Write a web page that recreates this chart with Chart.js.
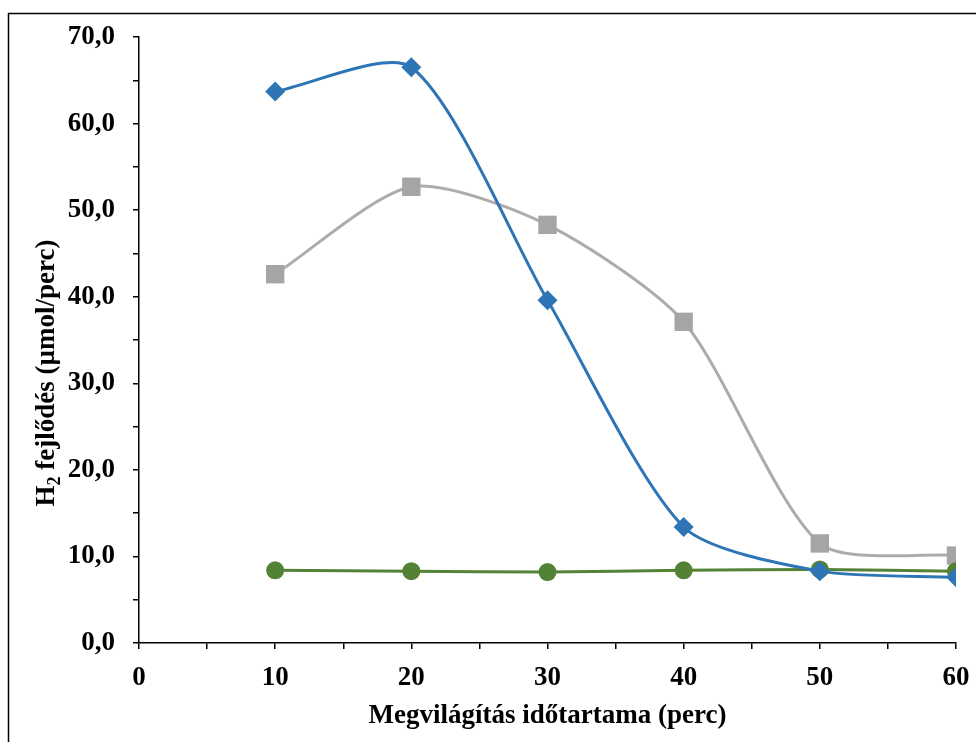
<!DOCTYPE html>
<html>
<head>
<meta charset="utf-8">
<script src="https://cdn.jsdelivr.net/npm/chart.js@4.4.1/dist/chart.umd.min.js"></script>
<style>
  html, body { margin: 0; padding: 0; background: #fff; }
  #wrap { width: 976px; height: 742px; }
</style>
</head>
<body>
<div id="wrap"><canvas id="h2-chart" width="976" height="742"></canvas></div>
<script>
// Megvilágítási idő (perc)
const minutes = [10, 20, 30, 40, 50, 60];

// H2 fejlődés, µmol/perc
const seriesBlue = [63.7, 66.5, 39.6, 13.4, 8.3, 7.6];
const seriesGray = [42.6, 52.7, 48.3, 37.1, 11.5, 10.1];
const seriesGreen = [8.4, 8.3, 8.2, 8.4, 8.5, 8.3];

const yTicks = [0, 10, 20, 30, 40, 50, 60, 70];
const xTicks = [0, 10, 20, 30, 40, 50, 60];

const xTitle = 'Megvilágítás időtartama (perc)';
const yTitleParts = ['H', '2', ' fejlődés (µmol/perc)'];

const FONT = '"Liberation Serif", "Times New Roman", serif';

const toPoints = (vals) => vals.map((v, i) => ({ x: minutes[i], y: v }));

// frame + axis titles (the y title needs a subscript)
const decorations = {
    id: 'decorations',
    afterDraw(chart) {
        const ctx = chart.ctx;
        const area = chart.chartArea;
        ctx.save();

        ctx.strokeStyle = '#000';
        ctx.lineWidth = 1.5;
        ctx.strokeRect(8.5, 13.5, 1000, 1000);

        ctx.fillStyle = '#000';
        ctx.font = 'bold 27px ' + FONT;
        ctx.textAlign = 'center';
        ctx.textBaseline = 'alphabetic';
        ctx.fillText(xTitle, (area.left + area.right) / 2, 723);

        // vertical title
        ctx.translate(54, 373);
        ctx.rotate(-Math.PI / 2);
        const big = 'bold 27px ' + FONT;
        const small = 'bold 18px ' + FONT;
        ctx.font = big;
        const w0 = ctx.measureText(yTitleParts[0]).width;
        const w2 = ctx.measureText(yTitleParts[2]).width;
        ctx.font = small;
        const w1 = ctx.measureText(yTitleParts[1]).width;
        let x = -(w0 + w1 + w2) / 2;
        ctx.textAlign = 'left';
        ctx.font = big;
        ctx.fillText(yTitleParts[0], x, 0);
        x += w0;
        ctx.font = small;
        ctx.fillText(yTitleParts[1], x, 6);
        x += w1;
        ctx.font = big;
        ctx.fillText(yTitleParts[2], x, 0);

        ctx.restore();
    }
};

const line = (data, color, markerColor, style, radius, order) => ({
    data: toPoints(data),
    borderColor: color,
    backgroundColor: markerColor,
    borderWidth: 3,
    pointStyle: style,
    pointRadius: radius,
    pointHoverRadius: radius,
    pointBorderWidth: 0,
    tension: 0.25,
    order: order
});

new Chart(document.getElementById('h2-chart'), {
    type: 'line',
    data: {
        datasets: [
            line(seriesBlue, '#2E75B6', '#2E75B6', 'rectRot', 10, 0),
            line(seriesGreen, '#548235', '#548235', 'circle', 9, 1),
            line(seriesGray, '#AFABAB', '#A5A5A5', 'rect', 13, 2)
        ]
    },
    options: {
        responsive: false,
        animation: false,
        layout: { padding: { top: 37, right: 20, left: 0, bottom: 0 } },
        plugins: {
            legend: { display: false },
            tooltip: { enabled: false }
        },
        scales: {
            x: {
                type: 'linear',
                min: 0,
                max: 60,
                afterFit: (scale) => {
                    scale.height = 99;
                    scale.paddingLeft = 0;
                    scale.paddingRight = 0;
                },
                afterBuildTicks: (scale) => {
                    const t = [];
                    for (let v = 0; v <= 60; v += 5) t.push({ value: v });
                    scale.ticks = t;
                },
                border: { display: true, color: '#000', width: 1.5 },
                grid: { drawOnChartArea: false, drawTicks: true, tickLength: 6, color: '#000', lineWidth: 1.5 },
                ticks: {
                    color: '#000',
                    padding: 13,
                    maxRotation: 0,
                    autoSkip: false,
                    font: { family: FONT, size: 27, weight: 'bold' },
                    callback: (v) => xTicks.includes(v) ? String(v) : ''
                }
            },
            y: {
                min: 0,
                max: 70,
                afterFit: (scale) => {
                    scale.width = 139;
                    scale.paddingTop = 0;
                    scale.paddingBottom = 0;
                },
                afterBuildTicks: (scale) => {
                    const t = [];
                    for (let v = 0; v <= 70; v += 5) t.push({ value: v });
                    scale.ticks = t;
                },
                border: { display: true, color: '#000', width: 1.5 },
                grid: { drawOnChartArea: false, drawTicks: true, tickLength: 6, color: '#000', lineWidth: 1.5 },
                ticks: {
                    color: '#000',
                    padding: 18,
                    autoSkip: false,
                    font: { family: FONT, size: 27, weight: 'bold' },
                    callback: (v) => yTicks.includes(v) ? v.toFixed(1).replace('.', ',') : ''
                }
            }
        }
    },
    plugins: [decorations]
});
</script>
</body>
</html>
